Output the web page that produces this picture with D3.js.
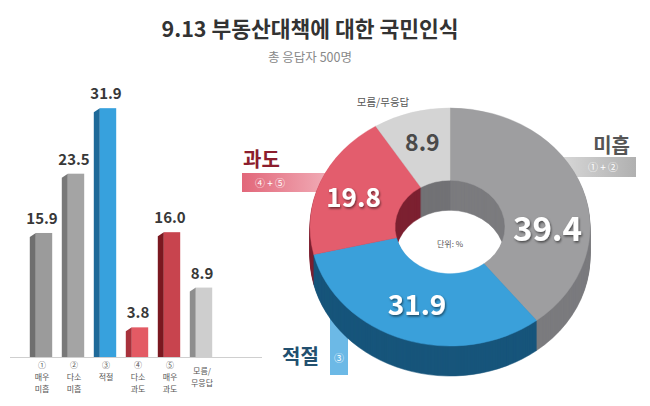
<!DOCTYPE html>
<html><head><meta charset="utf-8">
<script src="https://cdn.jsdelivr.net/npm/d3@7"></script>
<style>
body{margin:0;background:#fff}
svg{display:block}
text{font-family:"Noto Sans CJK KR","Noto Sans",sans-serif}
</style>
</head><body><svg id="c" width="650" height="406"></svg>
<script>
const title = "9.13 부동산대책에 대한 국민인식";
const subtitle = "총 응답자 500명";
const barCategories = [["①","매우","미흡"],["②","다소","미흡"],["③","적절"],["④","다소","과도"],["⑤","매우","과도"],["모름/","무응답"]];
const barValues = [15.9, 23.5, 31.9, 3.8, 16.0, 8.9];
const barFront = ["#9b9b9b","#a4a4a4","#37a1dd","#e35a64","#c8444e","#cecece"];
const barSide  = ["#6f6f6f","#787878","#1f6a99","#a8323c","#7a1820","#8e8e8e"];
const pieLabels = ["미흡","적절","과도","모름/무응답"];
const pieTags = ["① + ②","③","④ + ⑤",""];
const pieValues = [39.4, 31.9, 19.8, 8.9];
const pieTop  = ["#9e9ea0","#3aa0da","#e35d6d","#d4d4d4"];
const pieSide = ["#7b7b7e","#17557b","#7c2030","#727275"];
const pieValueColor = ["#fff","#fff","#fff","#4a4a4a"];

const svg = d3.select("#c");
const defs = svg.append("defs");
const f = defs.append("filter").attr("id","sh").attr("x","-20%").attr("y","-20%").attr("width","140%").attr("height","140%");
f.append("feDropShadow").attr("dx",1).attr("dy",1.5).attr("stdDeviation",1.2).attr("flood-color","#000").attr("flood-opacity",0.55);
const gr = defs.append("linearGradient").attr("id","pinkg").attr("x1","0").attr("x2","1");
gr.append("stop").attr("offset","0").attr("stop-color","#e2677a");
gr.append("stop").attr("offset","1").attr("stop-color","#f3b7c0");
const gg = defs.append("linearGradient").attr("id","greyg").attr("x1","0").attr("x2","1");
gg.append("stop").attr("offset","0").attr("stop-color","#d8d8d8");
gg.append("stop").attr("offset","1").attr("stop-color","#b0b0b0");

// Title
svg.append("text").attr("x",310).attr("y",37).attr("text-anchor","middle")
  .attr("font-size",21.5).attr("font-weight",700).attr("fill","#333").text(title);
svg.append("text").attr("x",310).attr("y",62).attr("text-anchor","middle")
  .attr("font-size",12.5).attr("fill","#888").text(subtitle);

// ---- Bar chart ----
const base = 357;
const x = d3.scaleBand().domain(d3.range(barValues.length)).range([25,217]).paddingInner(0.3).paddingOuter(0.15);
const y = d3.scaleLinear().domain([0,35]).range([base, 84]);
const bw = x.bandwidth(), sw = 6, slant = 4;

svg.append("line").attr("x1",10).attr("x2",262).attr("y1",base+0.5).attr("y2",base+0.5)
  .attr("stroke","#cfcfcf").attr("stroke-width",1);

const bars = svg.append("g").selectAll("g").data(barValues).join("g");
bars.append("path").attr("fill",(d,i)=>barSide[i])
  .attr("d",(d,i)=>{const x0=x(i), yt=y(d);
    return `M${x0},${base}L${x0},${yt+slant}L${x0+sw},${yt}L${x0+sw},${base}Z`;});
bars.append("rect").attr("fill",(d,i)=>barFront[i])
  .attr("x",(d,i)=>x(i)+sw).attr("y",d=>y(d)).attr("width",bw-sw).attr("height",d=>base-y(d));
bars.append("text").attr("x",(d,i)=>x(i)+bw/2+1).attr("y",d=>y(d)-9)
  .attr("text-anchor","middle").attr("font-family","Noto Sans").attr("font-weight",700)
  .attr("font-size",15).attr("fill","#383838").text(d=>d.toFixed(1));

// category labels: one text per line
const catLines = [];
barCategories.forEach((lines,i)=>{
  const y0 = /[①-⑳]/.test(lines[0]) ? 368 : 374;
  lines.forEach((t,j)=>catLines.push({i, t, y: y0 + j*11.8}));
});
svg.append("g").selectAll("text").data(catLines).join("text")
  .attr("text-anchor","middle").attr("font-size",8).attr("fill","#555")
  .attr("x",d=>x(d.i)+bw/2+1).attr("y",d=>d.y).text(d=>d.t);

// ---- Donut ----
const cx = 450, cy = 227, sy = 0.85, depth = 30, rO = 140, rI = 55;

// tags behind donut
svg.append("rect").attr("x",560).attr("y",157).attr("width",76).attr("height",20).attr("fill","url(#greyg)");
svg.append("text").attr("x",603).attr("y",171).attr("text-anchor","middle").attr("font-size",10).attr("fill","#fff").text(pieTags[0]);
svg.append("rect").attr("x",242).attr("y",173).attr("width",100).attr("height",19).attr("fill","url(#pinkg)");
svg.append("text").attr("x",270).attr("y",186.5).attr("text-anchor","middle").attr("font-size",10).attr("fill","#fff").text(pieTags[2]);
svg.append("rect").attr("x",330).attr("y",300).attr("width",18).attr("height",75).attr("fill","#6cb9e6");
svg.append("text").attr("x",339).attr("y",362).attr("text-anchor","middle").attr("font-size",10).attr("fill","#fff").text(pieTags[1]);

const pie = d3.pie().sort(null).value(d=>d);
const arcs = pie(pieValues);
const arc = d3.arc().innerRadius(rI).outerRadius(rO);
const dg = svg.append("g");
for (let d = depth; d >= 1; d--) {
  dg.append("g").attr("transform",`translate(${cx},${cy+d}) scale(1,${sy})`)
    .selectAll("path").data(arcs).join("path")
    .attr("d",arc).attr("fill",(a,i)=>pieSide[i]).attr("stroke",(a,i)=>pieSide[i]).attr("stroke-width",0.6);
}
dg.append("g").attr("transform",`translate(${cx},${cy}) scale(1,${sy})`)
  .selectAll("path").data(arcs).join("path")
  .attr("d",arc).attr("fill",(a,i)=>pieTop[i]).attr("stroke",(a,i)=>pieTop[i]).attr("stroke-width",0.5);

// value labels on donut
const labelNudge = [[3,30],[0,-2],[-4,3],[0,-3]];
const labelSize = [33,28,26,23];
const labArc = d3.arc().innerRadius(100).outerRadius(100);
svg.append("g").selectAll("text").data(arcs).join("text")
  .attr("x",(a,i)=>cx + labArc.centroid(a)[0] + labelNudge[i][0])
  .attr("y",(a,i)=>cy + labArc.centroid(a)[1]*sy + labelNudge[i][1])
  .attr("dy","0.36em").attr("text-anchor","middle")
  .attr("font-family","Noto Sans").attr("font-weight",700)
  .attr("font-size",(a,i)=>labelSize[i]).attr("fill",(a,i)=>pieValueColor[i])
  .attr("filter",(a,i)=>i<3?"url(#sh)":null)
  .text(a=>a.data.toFixed(1));

svg.append("text").attr("x",cx).attr("y",247).attr("text-anchor","middle").attr("font-size",8).attr("fill","#555").text("단위: %");

// category labels around donut
svg.append("text").attr("x",630).attr("y",153).attr("text-anchor","end").attr("font-size",20).attr("font-weight",700).attr("fill","#555").text(pieLabels[0]);
svg.append("text").attr("x",243).attr("y",167).attr("font-size",20).attr("font-weight",700).attr("fill","#8c1d2d").text(pieLabels[2]);
svg.append("text").attr("x",282).attr("y",364).attr("font-size",20).attr("font-weight",700).attr("fill","#22506f").text(pieLabels[1]);
svg.append("text").attr("x",383).attr("y",106).attr("text-anchor","middle").attr("font-size",10.5).attr("fill","#555").text(pieLabels[3]);
</script>
</body></html>
